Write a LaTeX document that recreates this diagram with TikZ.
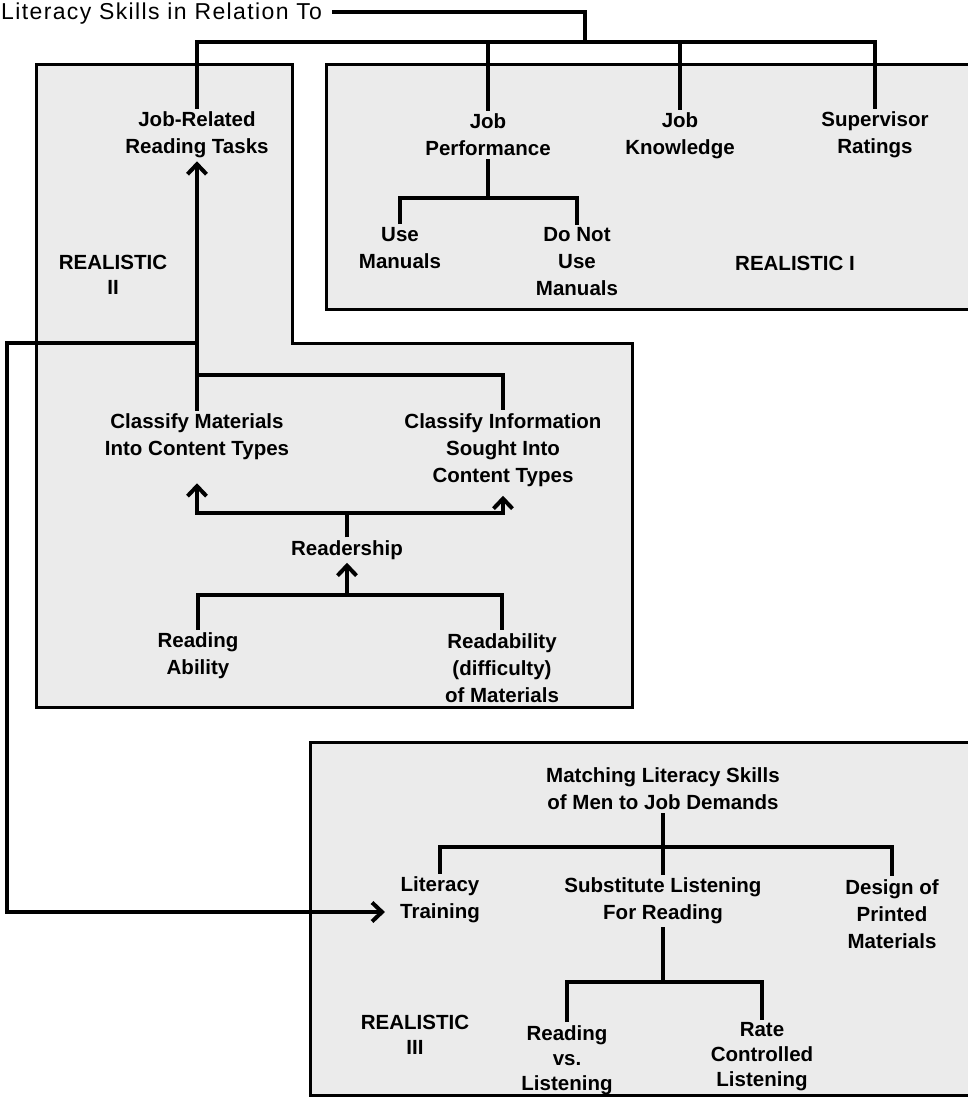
\documentclass[tikz,border=0pt]{standalone}
\usepackage{fontspec}
\setmainfont{Liberation Sans}
\usetikzlibrary{arrows.meta}

\tikzset{
  lbl/.style={font=\bfseries\fontsize{20.5}{27}\selectfont, align=center, inner sep=3pt},
  conn/.style={line width=4pt},
  boxline/.style={line width=3pt, fill=black!8},
  >={Straight Barb[length=10pt,width=19pt]}
}

\begin{document}
\begin{tikzpicture}[x=1pt,y=-1pt]
\useasboundingbox (0,0) rectangle (968,1097);
\draw[boxline] (36,65) -- (292,65) -- (292,343) -- (632,343) -- (632,707) -- (36,707) -- cycle;
\draw[boxline] (326,65) rectangle (990,309);
\draw[boxline] (310,742) rectangle (990,1095);

\node[anchor=base west, inner sep=0pt, font=\fontsize{23}{28}\selectfont\addfontfeature{LetterSpace=6}] (title) at (1,20) {Literacy Skills in Relation To};
\coordinate (hub) at (585,42);

\node[lbl] (jobrel) at (197,135) {Job-Related\\Reading Tasks};
\node[lbl, font=\bfseries\fontsize{20.5}{25}\selectfont] (real2) at (113,275) {REALISTIC\\II};
\node[lbl] (jobperf) at (488,135) {Job\\Performance};
\node[lbl] (jobknow) at (680,136) {Job\\Knowledge};
\node[lbl] (superv) at (875,135) {Supervisor\\Ratings};
\node[lbl] (usem) at (400,248) {Use\\Manuals};
\node[lbl] (donot) at (577,262) {Do Not\\Use\\Manuals};
\node[lbl] (real1) at (795,263) {REALISTIC I};

\node[lbl] (classmat) at (197,437) {Classify Materials\\Into Content Types};
\node[lbl] (classinf) at (503,450) {Classify Information\\Sought Into\\Content Types};
\node[lbl] (readship) at (347,550) {Readership};
\node[lbl] (readab) at (198,656) {Reading\\Ability};
\node[lbl] (readty) at (502,668) {Readability\\(difficulty)\\of Materials};

\node[lbl] (matching) at (663,789) {Matching Literacy Skills\\of Men to Job Demands};
\node[lbl] (littrain) at (440,900) {Literacy\\Training};
\node[lbl] (subst) at (663,901) {Substitute Listening\\For Reading};
\node[lbl] (design) at (892,914) {Design of\\Printed\\Materials};
\node[lbl, font=\bfseries\fontsize{20.5}{25}\selectfont] (real3) at (415,1035) {REALISTIC\\III};
\node[lbl, font=\bfseries\fontsize{20.5}{25}\selectfont] (readvs) at (567,1060) {Reading\\vs.\\Listening};
\node[lbl, font=\bfseries\fontsize{20.5}{25}\selectfont] (rate) at (762,1057) {Rate\\Controlled\\Listening};

\draw[line width=3.5pt] ([xshift=10pt,yshift=2pt]title.east) -| (hub);
\draw[conn] (jobrel.north) |- (superv.north |- hub) -- (superv.north);
\draw[conn] (jobperf.north) -- (jobperf.north |- hub);
\draw[conn] (jobknow.north) -- (jobknow.north |- hub);
\draw[conn] (jobperf.south) -- (jobperf.south |- 0,198);
\draw[conn] (usem.north) |- (donot.north |- 0,198) -- (donot.north);

\draw[conn,->] (classmat.north) -- (jobrel.south);
\draw[conn] (classmat.north |- 0,375) -| (classinf.north);
\draw[conn] (readship.north) -- (readship.north |- 0,513);
\draw[conn,->,shorten >=20pt] (readship.north |- 0,513) -| (classmat.south);
\draw[conn,->,shorten >=6pt] (readship.north |- 0,513) -| (classinf.south);
\draw[conn] (readab.north) |- (readty.north |- 0,595) -- (readty.north);
\draw[conn,->] (readship.south |- 0,595) -- (readship.south);

\coordinate (fb) at (7,343);
\draw[conn,->,shorten >=12pt] (classmat.north |- fb) -- (fb) |- ([yshift=-12pt]littrain.west);

\draw[conn] (matching.south) -- (subst.north);
\draw[conn] (littrain.north) |- (design.north |- 0,847) -- (design.north);
\draw[conn] (subst.south) -- (subst.south |- 0,982);
\draw[conn] (readvs.north) |- (rate.north |- 0,982) -- (rate.north);
\end{tikzpicture}
\end{document}
